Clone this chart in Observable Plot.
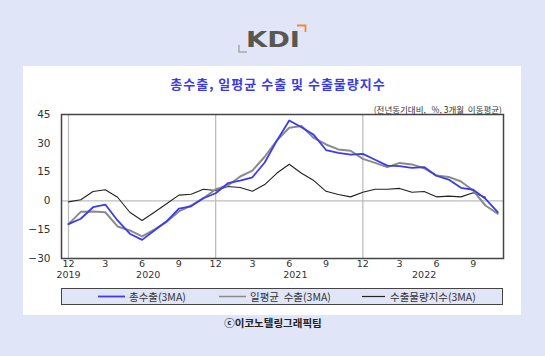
<!DOCTYPE html>
<html><head><meta charset="utf-8">
<script src="https://cdn.jsdelivr.net/npm/d3@7"></script>
<script src="https://cdn.jsdelivr.net/npm/@observablehq/plot@0.6"></script>
<style>
html,body{margin:0;padding:0;}
body{width:545px;height:356px;background:#e1e5f8;position:relative;overflow:hidden;font-family:"Noto Sans CJK KR","Noto Sans",sans-serif;}
.abs{position:absolute;}
#panel{left:23px;top:66px;width:498px;height:249px;background:#fff;}
#title{left:0;width:556px;top:74px;text-align:center;font-size:13px;font-weight:bold;color:#3b3be6;letter-spacing:1px;}
#sub{right:43px;top:103px;font-size:8.5px;color:#333;}
#chart{left:0;top:100px;}
#legend{left:61px;top:288px;width:440px;height:15px;border:1.5px solid #444;background:#e1e5f8;font-size:10.5px;color:#333;}
.li{position:absolute;top:0;height:15px;line-height:15px;}
.sw{position:absolute;top:7px;}
#cap{left:0;width:546px;top:315px;text-align:center;font-size:10.5px;font-weight:bold;color:#222;}
</style></head>
<body>
<div id="panel" class="abs"></div>
<svg class="abs" style="left:230px;top:20px" width="90" height="40">
  <text x="16" y="27" textLength="54" lengthAdjust="spacingAndGlyphs" font-family="DejaVu Sans, sans-serif" font-weight="bold" font-size="21" fill="#5a5650">KDI</text>
  <path d="M67 5.5 H75.5 V12" fill="none" stroke="#f08a30" stroke-width="1.8"/>
  <path d="M9 25 V32 H17" fill="none" stroke="#a9a9a9" stroke-width="1.5"/>
</svg>
<div id="title" class="abs">총수출, 일평균 수출 및 수출물량지수</div>
<div id="sub" class="abs">(전년동기대비,&nbsp;&nbsp; %, 3개월&nbsp; 이동평균)</div>
<div id="chart" class="abs"></div>
<div id="legend" class="abs">
  <svg class="sw" style="left:36px;top:6px" width="27" height="3"><line x1="0" y1="1.5" x2="27" y2="1.5" stroke="#3b3bf0" stroke-width="1.8"/></svg>
  <span class="li" style="left:67px">총수출(3MA)</span>
  <svg class="sw" style="left:157px;top:6px" width="27" height="3"><line x1="0" y1="1.5" x2="27" y2="1.5" stroke="#8a8a8a" stroke-width="1.5"/></svg>
  <span class="li" style="left:188px">일평균&nbsp; 수출(3MA)</span>
  <svg class="sw" style="left:300px;top:6px" width="23" height="3"><line x1="0" y1="1.5" x2="23" y2="1.5" stroke="#222" stroke-width="1.2"/></svg>
  <span class="li" style="left:328px">수출물량지수(3MA)</span>
</div>
<div id="cap" class="abs">ⓒ이코노텔링그래픽팀</div>
<script>
const months = ["2019-12","2020-01","2020-02","2020-03","2020-04","2020-05","2020-06","2020-07","2020-08","2020-09","2020-10","2020-11",
"2020-12","2021-01","2021-02","2021-03","2021-04","2021-05","2021-06","2021-07","2021-08","2021-09","2021-10","2021-11",
"2021-12","2022-01","2022-02","2022-03","2022-04","2022-05","2022-06","2022-07","2022-08","2022-09","2022-10","2022-11"];
const totalExports = [-12.1,-9.3,-3.3,-1.9,-10.2,-17.1,-20.3,-15.4,-10.6,-4.0,-2.8,1.4,
4.0,9.2,10.6,12.3,20.0,31.5,41.9,38.4,34.4,26.5,25.0,24.1,
24.5,21.4,18.4,18.1,17.2,17.6,13.1,11.1,6.8,5.8,1.1,-5.9];
const dailyAvgExports = [-12.1,-5.7,-5.5,-5.9,-13.3,-15.4,-18.5,-14.9,-10.9,-5.5,-2.4,1.4,
6.1,8.0,12.7,15.8,23.0,31.5,38.1,39.0,32.8,29.4,26.8,26.1,
21.9,19.8,17.6,19.8,19.0,17.0,13.2,12.5,10.1,5.4,-2.4,-6.7];
const exportVolume = [-0.5,0.6,4.9,5.8,1.9,-5.9,-10.2,-5.9,-1.5,3.0,3.5,6.1,
5.4,7.5,7.0,5.0,8.5,14.5,19.1,14.4,10.6,5.0,3.3,2.1,
4.5,6.1,6.1,6.5,4.5,4.9,2.1,2.5,2.1,4.2,1.9,null];
const yTicks = [-30,-15,0,15,30,45];
const xTickIdx = [0,3,6,9,12,15,18,21,24,27,30,33];
const xTickLabels = ["12","3","6","9","12","3","6","9","12","3","6","9"];
const yearLabels = ["2019","2020","2021","2022"];
const yearIdx = [0,6.5,18.5,29];
const gridIdx = [0,12,24];

const rows = months.map((m,i)=>({i, m, a: totalExports[i], b: dailyAvgExports[i], c: exportVolume[i]}));
const volRows = rows.filter(d=>d.c!=null);
const font = "'DejaVu Sans','Noto Sans CJK KR',sans-serif";

const chart = Plot.plot({
  width: 545, height: 190,
  marginTop: 14, marginBottom: 32, marginLeft: 61, marginRight: 42,
  style: {background: "transparent", fontFamily: font, fontSize: "10px", color: "#333", overflow: "visible"},
  x: {domain: [-0.57, 35.47], axis: null},
  y: {domain: [-30, 45], axis: null},
  marks: [
    Plot.ruleX(gridIdx, {stroke: "#bdbdbd", strokeWidth: 1.3}),
    Plot.ruleY([0], {stroke: "#bdbdbd", strokeWidth: 1.3}),
    Plot.line(volRows, {x: "i", y: "c", stroke: "#222", strokeWidth: 1.1}),
    Plot.line(rows, {x: "i", y: "b", stroke: "#8a8a8a", strokeWidth: 2}),
    Plot.line(rows, {x: "i", y: "a", stroke: "#3b3bf0", strokeWidth: 1.8}),
    Plot.frame({stroke: "#444", strokeWidth: 1.5}),
    Plot.axisY(yTicks, {tickSize: 0, tickPadding: 11, fontSize: 10.5, fill: "#333"}),
    Plot.text(xTickIdx, {x: d=>d, frameAnchor: "bottom", dy: 8, text: (d,j)=>xTickLabels[j], fontSize: 9.5, fill: "#333"}),
    Plot.text(yearIdx, {x: d=>d, frameAnchor: "bottom", dy: 19.5, text: (d,j)=>yearLabels[j], fontSize: 9.5, fill: "#333"})
  ]
});
document.getElementById("chart").appendChild(chart);
</script>
</body></html>
